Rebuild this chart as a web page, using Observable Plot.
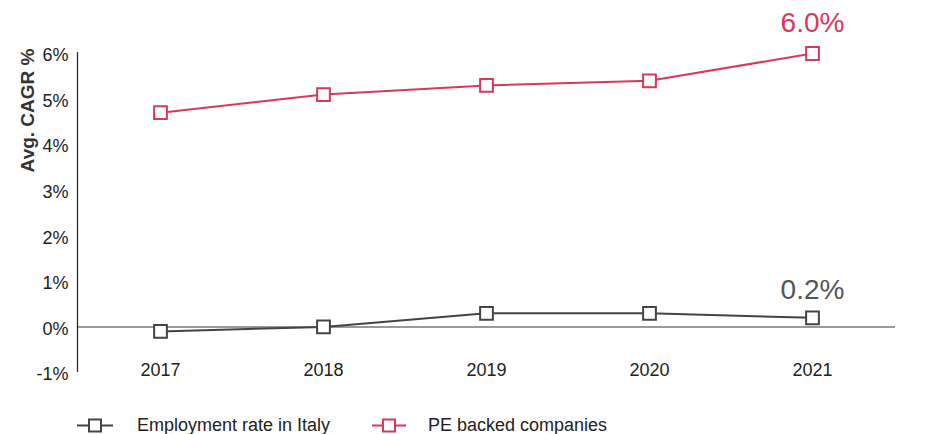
<!DOCTYPE html>
<html>
<head>
<meta charset="utf-8">
<script src="https://cdn.jsdelivr.net/npm/d3@7"></script>
<script src="https://cdn.jsdelivr.net/npm/@observablehq/plot@0.6"></script>
<style>
  body { margin: 0; background: #fff; font-family: "Liberation Sans", Arial, sans-serif; }
  #chart svg { display: block; }
  .legend { position: relative; height: 44px; font-size: 18px; color: #222; }
  .item { position: absolute; top: 35px; display: flex; align-items: center; transform: translateY(-50%); }
</style>
</head>
<body>
<div id="chart"></div>
<div class="legend">
  <div class="item" style="left:77px">
    <svg width="36" height="16" style="margin-right:24px"><line x1="0" y1="8" x2="36" y2="8" stroke="#444" stroke-width="2"/><rect x="12" y="2" width="12" height="12" fill="#fff" stroke="#444" stroke-width="2"/></svg>
    <span>Employment rate in Italy</span>
  </div>
  <div class="item" style="left:372px">
    <svg width="34" height="16" style="margin-right:22px"><line x1="0" y1="8" x2="34" y2="8" stroke="#d8385a" stroke-width="2"/><rect x="11" y="2" width="12" height="12" fill="#fff" stroke="#d8385a" stroke-width="2"/></svg>
    <span>PE backed companies</span>
  </div>
</div>
<script>
const years = ["2017", "2018", "2019", "2020", "2021"];
const employment = [-0.1, 0.0, 0.3, 0.3, 0.2];
const peBacked = [4.7, 5.1, 5.3, 5.4, 6.0];
const yTicks = [-1, 0, 1, 2, 3, 4, 5, 6];
const seriesNames = ["Employment rate in Italy", "PE backed companies"];
const colors = ["#444444", "#d8385a"];
const labelColors = ["#555555", "#d8385a"];

const rows = [];
years.forEach((y, i) => {
  rows.push({year: y, value: employment[i], series: seriesNames[0]});
  rows.push({year: y, value: peBacked[i], series: seriesNames[1]});
});
const last = rows.filter(d => d.year === years[years.length - 1]);

const plot = Plot.plot({
  width: 925,
  height: 390,
  marginLeft: 77,
  marginRight: 30,
  marginTop: 53,
  marginBottom: 18,
  style: {fontFamily: "Liberation Sans, Arial, sans-serif", background: "#fff"},
  x: {type: "point", domain: years, padding: 0.5},
  y: {domain: [-1, 6], ticks: yTicks},
  color: {domain: seriesNames, range: colors},
  marks: [
    Plot.ruleY([0], {stroke: "#777", strokeWidth: 1.5}),
    (index, scales, values, dims) => {
      const line = document.createElementNS("http://www.w3.org/2000/svg", "line");
      const x0 = dims.marginLeft + 0.5;
      line.setAttribute("x1", x0); line.setAttribute("x2", x0);
      line.setAttribute("y1", scales.y(6) - 1); line.setAttribute("y2", scales.y(-1));
      line.setAttribute("stroke", "#222"); line.setAttribute("stroke-width", 1.2);
      return line;
    },
    Plot.axisY({ticks: yTicks, tickSize: 0, tickPadding: 9, fontSize: 18, fill: "#222", tickFormat: d => d + "%", label: null, dy: 2}),
    Plot.axisX({tickSize: 0, fontSize: 18, fill: "#222", dy: -18, label: null}),
    Plot.text(["Avg. CAGR %"], {frameAnchor: "top-left", rotate: -90, textAnchor: "end", dx: -57, dy: -5, fontSize: 19, fontWeight: "bold", fill: "#333"}),
    Plot.line(rows, {x: "year", y: "value", stroke: "series", z: "series", strokeWidth: 2}),
    Plot.dot(rows, {x: "year", y: "value", stroke: "series", symbol: "square", r: 7.2, fill: "#fff", strokeWidth: 2}),
    Plot.text(last, {x: "year", y: "value", text: d => d.value.toFixed(1) + "%", fill: labelColors[1], fontSize: 28, textAnchor: "middle", filter: d => d.series === seriesNames[1], dy: -30}),
    Plot.text(last, {x: "year", y: "value", text: d => d.value.toFixed(1) + "%", fill: labelColors[0], fontSize: 28, textAnchor: "middle", filter: d => d.series === seriesNames[0], dy: -28})
  ]
});
document.getElementById("chart").appendChild(plot);
</script>
</body>
</html>
